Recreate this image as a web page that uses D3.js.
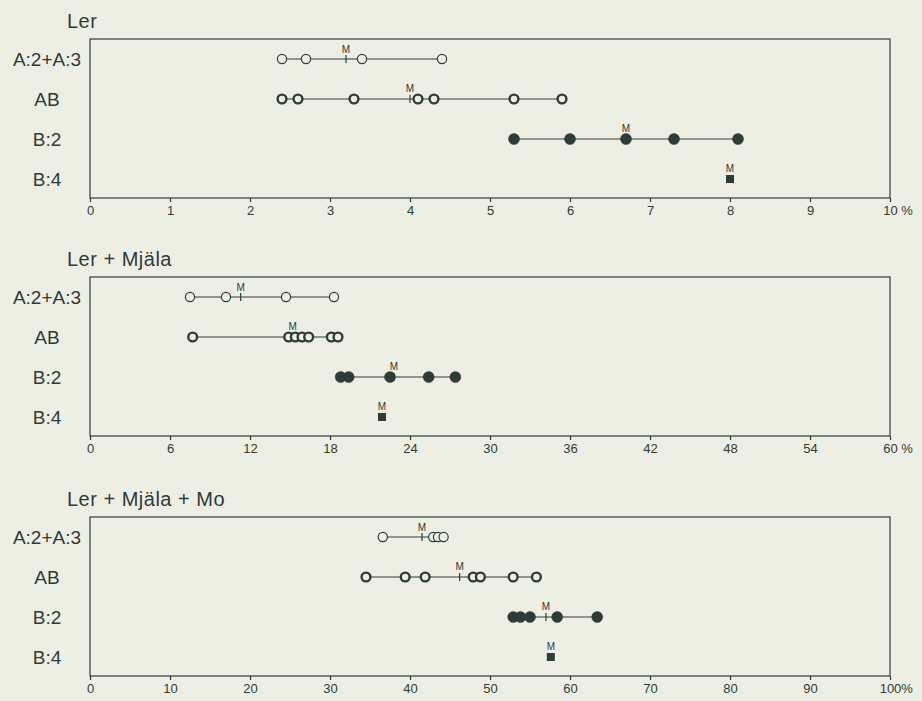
<!DOCTYPE html>
<html>
<head>
<meta charset="utf-8">
<script src="https://d3js.org/d3.v7.min.js"></script>
<style>
  body { margin: 0; background: #edefe5; }
  svg { display: block; }
  .frame { fill: none; stroke: #2e3b36; stroke-width: 1.2px; }
  .axis line { stroke: #2e3b36; stroke-width: 1.2px; }
  .axis text { font-family: "Liberation Sans", sans-serif; font-size: 13px; fill: #2e3b36; }
  .title { font-family: "Liberation Sans", sans-serif; font-size: 20px; fill: #2e3b36; letter-spacing: 0.5px; }
  .rowlab { font-family: "Liberation Sans", sans-serif; font-size: 19px; fill: #2e3b36; }
  .mlab { font-family: "Liberation Sans", sans-serif; font-size: 10px; fill: #2e3b36; }
  .range { stroke: #2e3b36; stroke-width: 1px; }
</style>
</head>
<body>
<script>
// row categories
var rows = ["A:2+A:3", "AB", "B:2", "B:4"]

// Ler
var lerA  = [2.4, 2.7, 3.4, 4.4]
var lerAB = [2.4, 2.6, 3.3, 4.1, 4.3, 5.3, 5.9]
var lerB2 = [5.3, 6.0, 6.7, 7.3, 8.1]
var lerB4 = [8.0]
var lerM  = [3.2, 4.0, 6.7, 8.0]

// Ler + Mjäla
var mjA  = [7.5, 10.2, 14.7, 18.3]
var mjAB = [7.7, 14.9, 15.4, 15.9, 16.4, 18.1, 18.6]
var mjB2 = [18.8, 19.4, 22.5, 25.4, 27.4]
var mjB4 = [21.9]
var mjM  = [11.3, 15.2, 22.8, 21.9]

// Ler + Mjäla + Mo
var moA  = [36.6, 42.9, 43.5, 44.2]
var moAB = [34.5, 39.4, 41.9, 47.9, 48.8, 52.9, 55.8]
var moB2 = [52.9, 53.8, 55.0, 58.4, 63.4]
var moB4 = [57.6]
var moM  = [41.5, 46.2, 57.0, 57.6]

var panels = [
  { title: "Ler", max: 10, ticks: d3.range(0, 11, 1), top: 39,
    series: [lerA, lerAB, lerB2, lerB4], means: lerM },
  { title: "Ler + Mjäla", max: 60, ticks: d3.range(0, 61, 6), top: 277,
    series: [mjA, mjAB, mjB2, mjB4], means: mjM },
  { title: "Ler + Mjäla + Mo", max: 100, ticks: d3.range(0, 101, 10), top: 517,
    series: [moA, moAB, moB2, moB4], means: moM }
]

// marker style per row: open thin, open bold, filled, square
var styles = ["open", "bold", "filled", "square"]

var width = 922, height = 701,
    left = 90, right = 890, boxH = 159,
    ink = "#2e3b36", paper = "#edefe5"

var svg = d3.select("body").append("svg")
  .attr("width", width)
  .attr("height", height)

svg.append("rect").attr("width", width).attr("height", height).attr("fill", paper)

panels.forEach(function(p){
  var g = svg.append("g").attr("transform", "translate(0," + p.top + ")")

  var x = d3.scaleLinear().domain([0, p.max]).range([left, right])
  var y = d3.scalePoint().domain(rows).range([20, 140])

  g.append("text").attr("class", "title")
    .attr("x", 67).attr("y", -11)
    .text(p.title)

  g.append("rect").attr("class", "frame")
    .attr("x", left).attr("y", 0)
    .attr("width", right - left).attr("height", boxH)

  var axis = g.append("g").attr("class", "axis")
    .attr("transform", "translate(0," + boxH + ")")
    .call(d3.axisBottom(x).tickValues(p.ticks).tickSize(4).tickPadding(4).tickFormat(d3.format("d")))
  axis.select(".domain").remove()

  // percent sign after the last tick
  var last = axis.selectAll(".tick text").filter(function(d){ return d === p.max })
  var w = last.node().getComputedTextLength()
  last.attr("text-anchor", "start").attr("dx", -w / 2)
  last.append("tspan").text(p.max === 100 ? "%" : " %")

  g.selectAll(".rowlab").data(rows).enter().append("text")
    .attr("class", "rowlab")
    .attr("x", 47).attr("y", function(d){ return y(d) })
    .attr("dy", "0.36em")
    .attr("text-anchor", "middle")
    .text(function(d){ return d })

  rows.forEach(function(r, i){
    var vals = p.series[i], yy = y(r), st = styles[i]
    if (vals.length > 1) {
      g.append("line").attr("class", "range")
        .attr("x1", x(d3.min(vals))).attr("x2", x(d3.max(vals)))
        .attr("y1", yy).attr("y2", yy)
    }
    // mean tick
    g.append("line")
      .attr("x1", x(p.means[i])).attr("x2", x(p.means[i]))
      .attr("y1", yy - 4).attr("y2", yy + 4)
      .attr("stroke", ink).attr("stroke-width", 1.2)

    if (st === "square") {
      g.selectAll(null).data(vals).enter().append("rect")
        .attr("x", function(d){ return x(d) - 4 })
        .attr("y", yy - 4)
        .attr("width", 8).attr("height", 8)
        .attr("fill", ink)
    } else {
      g.selectAll(null).data(vals).enter().append("circle")
        .attr("cx", function(d){ return x(d) })
        .attr("cy", yy)
        .attr("r", st === "filled" ? 5.5 : (st === "bold" ? 4.4 : 4.6))
        .attr("fill", st === "filled" ? ink : paper)
        .attr("stroke", ink)
        .attr("stroke-width", st === "bold" ? 2.4 : (st === "filled" ? 0.5 : 1.2))
    }

    g.append("text").attr("class", "mlab")
      .attr("x", x(p.means[i])).attr("y", yy - (st === "open" ? 6 : 7))
      .attr("text-anchor", "middle")
      .text("M")
  })
})
</script>
</body>
</html>
